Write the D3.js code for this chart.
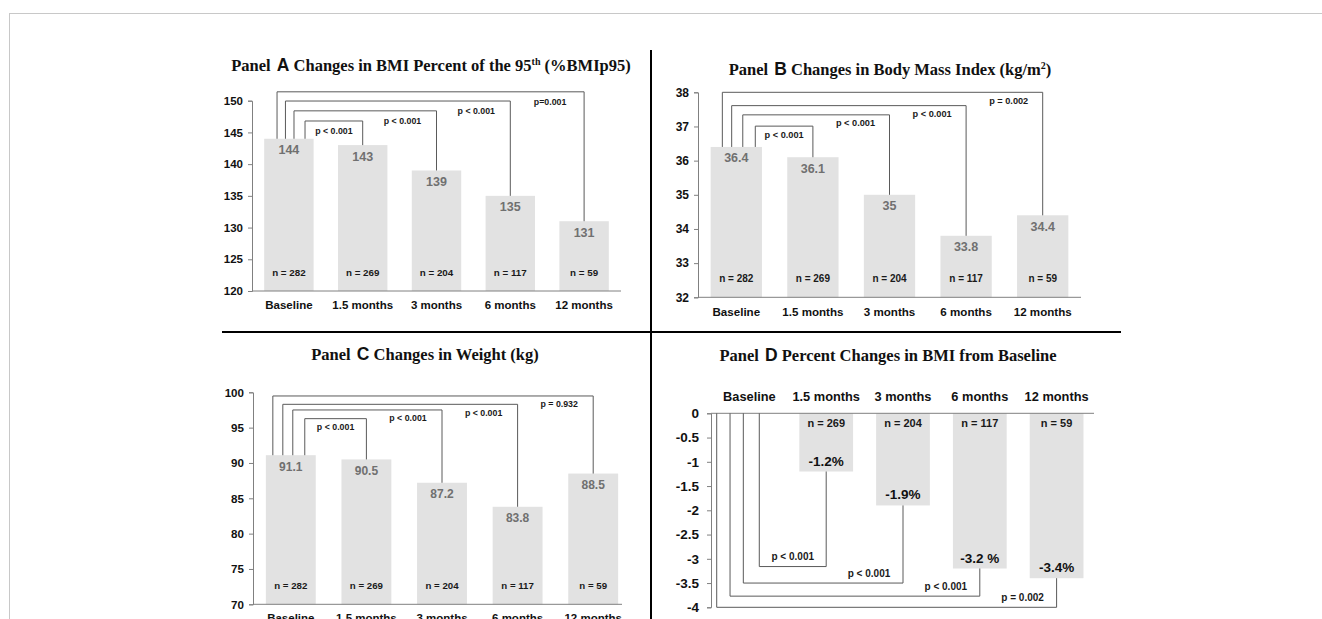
<!DOCTYPE html>
<html><head><meta charset="utf-8">
<script src="https://cdn.jsdelivr.net/npm/d3@7"></script>
<style>body{margin:0;background:#fff} svg{display:block}</style>
</head><body>
<svg id="chart" width="1322" height="619"></svg>
<script>
// ---------- data ----------
const categories = ["Baseline", "1.5 months", "3 months", "6 months", "12 months"];
const nLabels = ["n = 282", "n = 269", "n = 204", "n = 117", "n = 59"];
const bmiP95Values = [144, 143, 139, 135, 131];
const bmiValues = [36.4, 36.1, 35, 33.8, 34.4];
const weightValues = [91.1, 90.5, 87.2, 83.8, 88.5];
const pctChangeValues = [null, -1.2, -1.9, -3.2, -3.4];
const pctChangeLabels = ["", "-1.2%", "-1.9%", "-3.2 %", "-3.4%"];
const ticksA = [120, 125, 130, 135, 140, 145, 150];
const ticksB = [32, 33, 34, 35, 36, 37, 38];
const ticksC = [70, 75, 80, 85, 90, 95, 100];
const ticksD = [0, -0.5, -1, -1.5, -2, -2.5, -3, -3.5, -4];
const pLabelsA = ["p < 0.001", "p < 0.001", "p < 0.001", "p=0.001"];
const pLabelsB = ["p < 0.001", "p < 0.001", "p < 0.001", "p = 0.002"];
const pLabelsC = ["p < 0.001", "p < 0.001", "p < 0.001", "p = 0.932"];
const pLabelsD = ["p < 0.001", "p < 0.001", "p < 0.001", "p = 0.002"];
const bracketLevelsA = [146.8, 148.4, 149.95, 151.4];
const bracketLevelsB = [37.01, 37.34, 37.61, 38.0];
const bracketLevelsC = [96.27, 97.5, 98.3, 99.48];
const bracketLevelsD = [-3.16, -3.5, -3.77, -4.0];

// ---------- layout ----------
const SANS = "'Liberation Sans', Arial, Helvetica, sans-serif";
const SERIF = "'Liberation Serif', 'Times New Roman', serif";
const svg = d3.select("#chart");

svg.append("rect").attr("x", 9.5).attr("y", 13.5).attr("width", 1330).attr("height", 620)
  .attr("fill", "none").attr("stroke", "#c8c8c8");

function drawTitle(parts, x, y) {
  const t = svg.append("text").attr("x", x).attr("y", y).attr("text-anchor", "middle")
    .attr("font-family", SERIF).attr("font-weight", "bold").attr("font-size", 16.5).attr("fill", "#111");
  let shift = 0;
  parts.forEach(p => {
    const ts = t.append("tspan").text(p.t);
    if (p.big) ts.attr("font-family", SANS).attr("font-size", 17.5).attr("dx", 2);
    if (p.sup) { ts.attr("font-size", 10).attr("dy", -6); shift = 6; }
    else if (shift) { ts.attr("dy", shift); shift = 0; }
  });
}

function styleAxis(g, fontSize) {
  g.selectAll("path.domain").attr("stroke", "#808080");
  g.selectAll(".tick line").attr("stroke", "#808080");
  g.selectAll(".tick text").attr("font-family", SANS).attr("font-weight", "bold")
    .attr("font-size", fontSize).attr("fill", "#111");
}

function uprightPanel(cfg) {
  const x = d3.scaleBand().domain(categories).range(cfg.xRange)
    .paddingInner(cfg.pad).paddingOuter(cfg.pad / 2);
  const y = d3.scaleLinear().domain(cfg.yDomain).range(cfg.yRange);
  const g = svg.append("g");
  const base = y(cfg.yDomain[0]);

  g.selectAll("rect.bar").data(cfg.values).join("rect").attr("class", "bar")
    .attr("x", (d, i) => x(categories[i])).attr("width", x.bandwidth())
    .attr("y", d => y(d)).attr("height", d => base - y(d)).attr("fill", "#e2e2e2");

  const yg = g.append("g").attr("transform", `translate(${cfg.xRange[0]},0)`)
    .call(d3.axisLeft(y).tickValues(cfg.ticks).tickSize(4).tickPadding(5).tickFormat(d3.format("d")));
  styleAxis(yg, cfg.tickFont);

  g.append("line").attr("x1", cfg.xRange[0]).attr("x2", cfg.axisEnd)
    .attr("y1", base).attr("y2", base).attr("stroke", "#808080");

  const xg = g.append("g").attr("transform", `translate(0,${base})`)
    .call(d3.axisBottom(x).tickSize(0).tickPadding(10));
  xg.select("path.domain").remove();
  styleAxis(xg, cfg.catFont);

  g.selectAll("text.val").data(cfg.values).join("text").attr("class", "val")
    .attr("x", (d, i) => x(categories[i]) + x.bandwidth() / 2)
    .attr("y", d => y(d) + 15.5).attr("text-anchor", "middle")
    .attr("font-family", SANS).attr("font-weight", "bold").attr("font-size", cfg.valFont)
    .attr("fill", "#707070").text(d => d);

  g.selectAll("text.n").data(nLabels).join("text").attr("class", "n")
    .attr("x", (d, i) => x(categories[i]) + x.bandwidth() / 2)
    .attr("y", base - 15.5).attr("text-anchor", "middle")
    .attr("font-family", SANS).attr("font-weight", "bold").attr("font-size", cfg.nFont)
    .attr("fill", "#1a1a1a").text(d => d);

  cfg.levels.forEach((lv, k) => {
    const to = k + 1;
    const xs = x(categories[0]) + cfg.startFracs[k] * x.bandwidth();
    const xe = x(categories[to]) + x.bandwidth() / 2;
    const yl = y(lv);
    g.append("path").attr("d", `M${xs},${y(cfg.values[0])}V${yl}H${xe}V${y(cfg.values[to])}`)
      .attr("fill", "none").attr("stroke", "#5a5a5a").attr("stroke-width", 1);
    g.append("text").attr("x", k === 0 ? (xs + xe) / 2 : xe - 34).attr("y", yl + cfg.pDy)
      .attr("text-anchor", "middle").attr("font-family", SANS).attr("font-weight", "bold")
      .attr("font-size", cfg.pFont).attr("fill", "#1a1a1a").text(cfg.pLabels[k]);
  });
}

function invertedPanel(cfg) {
  const x = d3.scaleBand().domain(categories).range(cfg.xRange)
    .paddingInner(cfg.pad).paddingOuter(cfg.pad / 2);
  const y = d3.scaleLinear().domain(cfg.yDomain).range(cfg.yRange);
  const g = svg.append("g");
  const top = y(0);
  const items = cfg.values.map((v, i) => ({ v, i })).filter(d => d.v !== null);

  g.selectAll("rect.bar").data(items).join("rect").attr("class", "bar")
    .attr("x", d => x(categories[d.i])).attr("width", x.bandwidth())
    .attr("y", top).attr("height", d => y(d.v) - top).attr("fill", "#e2e2e2");

  const yg = g.append("g").attr("transform", `translate(${cfg.xRange[0]},0)`)
    .call(d3.axisLeft(y).tickValues(cfg.ticks).tickSize(4).tickPadding(8).tickFormat(d => String(d)));
  styleAxis(yg, cfg.tickFont);

  g.append("line").attr("x1", cfg.xRange[0]).attr("x2", cfg.axisEnd)
    .attr("y1", top).attr("y2", top).attr("stroke", "#808080");

  const xg = g.append("g").attr("transform", `translate(0,${top})`)
    .call(d3.axisTop(x).tickSize(0).tickPadding(12));
  xg.select("path.domain").remove();
  styleAxis(xg, cfg.catFont);

  g.selectAll("text.n").data(items).join("text").attr("class", "n")
    .attr("x", d => x(categories[d.i]) + x.bandwidth() / 2).attr("y", top + 14)
    .attr("text-anchor", "middle").attr("font-family", SANS).attr("font-weight", "bold")
    .attr("font-size", cfg.nFont).attr("fill", "#1a1a1a").text(d => nLabels[d.i]);

  g.selectAll("text.val").data(items).join("text").attr("class", "val")
    .attr("x", d => x(categories[d.i]) + x.bandwidth() / 2).attr("y", d => y(d.v) - 6)
    .attr("text-anchor", "middle").attr("font-family", SANS).attr("font-weight", "bold")
    .attr("font-size", cfg.valFont).attr("fill", "#111").text(d => cfg.valLabels[d.i]);

  cfg.levels.forEach((lv, k) => {
    const to = k + 1;
    const xs = x(categories[0]) + cfg.startFracs[k] * x.bandwidth();
    const xe = x(categories[to]) + x.bandwidth() / 2;
    const yl = y(lv);
    g.append("path").attr("d", `M${xs},${top}V${yl}H${xe}V${y(cfg.values[to])}`)
      .attr("fill", "none").attr("stroke", "#5a5a5a").attr("stroke-width", 1);
    g.append("text").attr("x", k === 0 ? (xs + xe) / 2 : xe - 34).attr("y", yl - 6.5)
      .attr("text-anchor", "middle").attr("font-family", SANS).attr("font-weight", "bold")
      .attr("font-size", cfg.pFont).attr("fill", "#1a1a1a").text(cfg.pLabels[k]);
  });
}

uprightPanel({ values: bmiP95Values, ticks: ticksA, levels: bracketLevelsA, pLabels: pLabelsA,
  yDomain: [120, 150], yRange: [291, 100.7], xRange: [252, 621], axisEnd: 621, pad: 0.33,
  startFracs: [0.826, 0.603, 0.43, 0.26], tickFont: 11.5, catFont: 11.5, valFont: 12.5, nFont: 9.8,
  pFont: 8.8, pDy: 13 });
uprightPanel({ values: bmiValues, ticks: ticksB, levels: bracketLevelsB, pLabels: pLabelsB,
  yDomain: [32, 38], yRange: [297.3, 92.3], xRange: [698, 1081], axisEnd: 1081, pad: 0.33,
  startFracs: [0.87, 0.626, 0.41, 0.228], tickFont: 12, catFont: 11.6, valFont: 12.5, nFont: 10,
  pFont: 9.2, pDy: 11.5 });
uprightPanel({ values: weightValues, ticks: ticksC, levels: bracketLevelsC, pLabels: pLabelsC,
  yDomain: [70, 100], yRange: [604.3, 392.3], xRange: [253, 631], axisEnd: 622, pad: 0.34,
  startFracs: [0.78, 0.54, 0.34, 0.14], tickFont: 11.6, catFont: 11.5, valFont: 12, nFont: 9.7,
  pFont: 8.8, pDy: 11.5 });
invertedPanel({ values: pctChangeValues, valLabels: pctChangeLabels, ticks: ticksD, levels: bracketLevelsD,
  pLabels: pLabelsD, yDomain: [-4, 0], yRange: [607.3, 413.3], xRange: [711, 1095], axisEnd: 1094, pad: 0.3,
  startFracs: [0.684, 0.387, 0.14, -0.108], tickFont: 13.5, catFont: 12.8, valFont: 13.5, nFont: 11,
  pFont: 10 });

drawTitle([{ t: "Panel " }, { t: "A", big: true }, { t: " Changes in BMI Percent of the 95" }, { t: "th", sup: true }, { t: " (%BMIp95)" }], 431, 71);
drawTitle([{ t: "Panel " }, { t: "B", big: true }, { t: " Changes in Body Mass Index (kg/m" }, { t: "2", sup: true }, { t: ")" }], 890, 75);
drawTitle([{ t: "Panel " }, { t: "C", big: true }, { t: " Changes in Weight (kg)" }], 425, 360);
drawTitle([{ t: "Panel " }, { t: "D", big: true }, { t: " Percent Changes in BMI from Baseline" }], 888, 361);

svg.append("line").attr("x1", 651).attr("x2", 651).attr("y1", 50).attr("y2", 619)
  .attr("stroke", "#000").attr("stroke-width", 2);
svg.append("line").attr("x1", 222).attr("x2", 1121).attr("y1", 332).attr("y2", 332)
  .attr("stroke", "#000").attr("stroke-width", 2);
</script>
</body></html>
